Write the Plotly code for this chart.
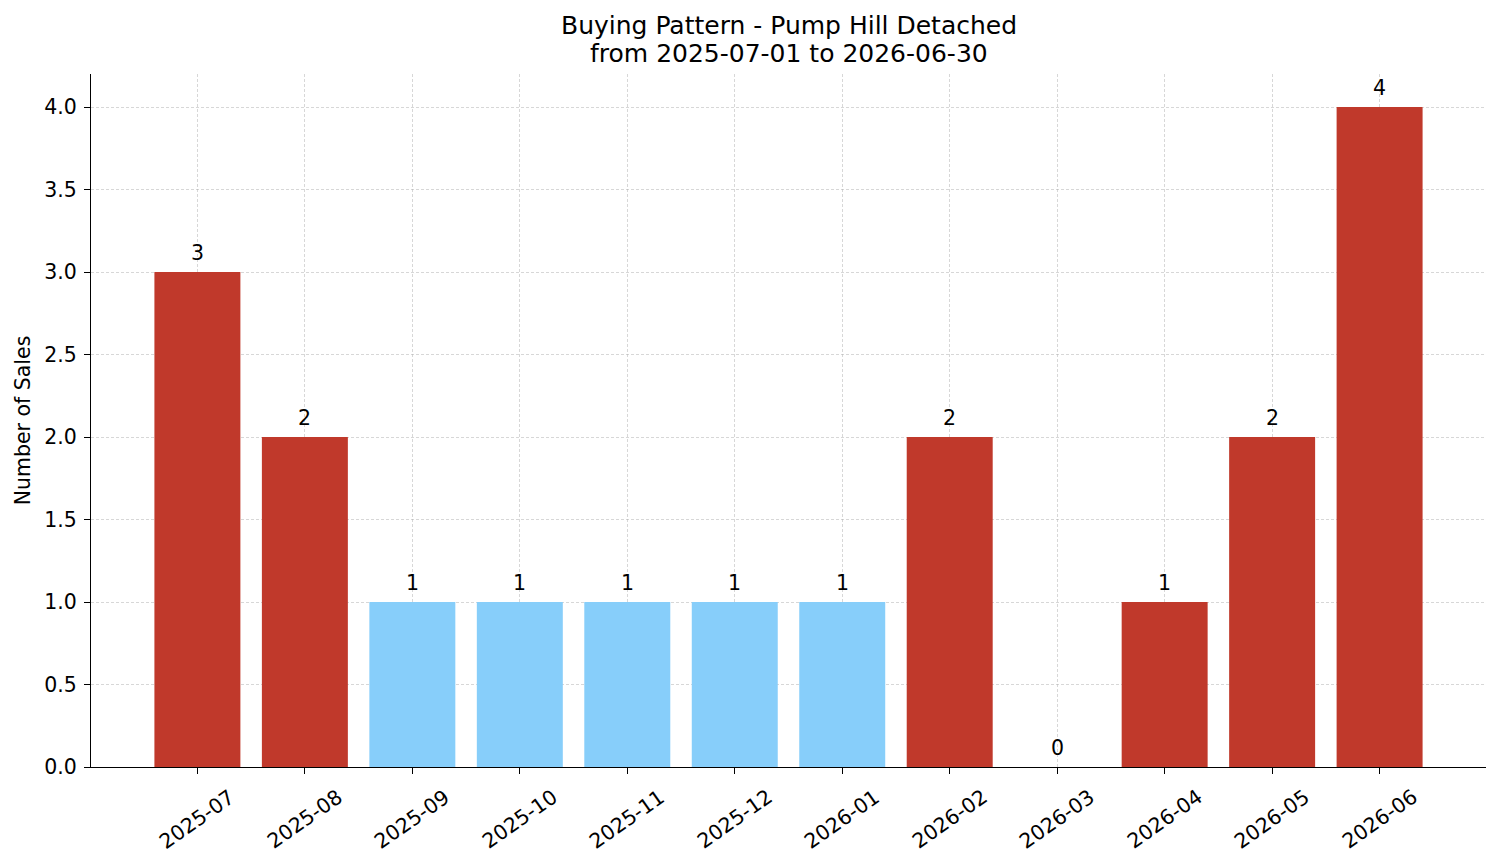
import plotly.graph_objects as go

months = ["2025-07", "2025-08", "2025-09", "2025-10", "2025-11", "2025-12",
          "2026-01", "2026-02", "2026-03", "2026-04", "2026-05", "2026-06"]
sales = [3, 2, 1, 1, 1, 1, 1, 2, 0, 1, 2, 4]
bar_colors = ["#c0392b", "#c0392b", "#87cefa", "#87cefa", "#87cefa", "#87cefa",
              "#87cefa", "#c0392b", "#c0392b", "#c0392b", "#c0392b", "#c0392b"]
y_ticks = [0.0, 0.5, 1.0, 1.5, 2.0, 2.5, 3.0, 3.5, 4.0]
title_lines = ["Buying Pattern - Pump Hill Detached", "from 2025-07-01 to 2026-06-30"]

FONT = "DejaVu Sans"
FS = 20.5
x_idx = list(range(len(months)))

fig = go.Figure()
fig.add_trace(go.Bar(
    x=x_idx, y=sales, width=0.8, marker=dict(color=bar_colors, line=dict(width=0)),
    hoverinfo="skip", showlegend=False,
))

annotations = []
for i, v in zip(x_idx, sales):
    annotations.append(dict(x=i, y=v, xref="x", yref="y", text=str(v), showarrow=False,
                            yanchor="bottom", yshift=5, font=dict(family=FONT, size=FS, color="#000")))
for i, m in zip(x_idx, months):
    annotations.append(dict(x=i, y=0, xref="x", yref="paper", text=m, showarrow=False,
                            textangle=-35, yanchor="middle", xanchor="center", yshift=-52,
                            font=dict(family=FONT, size=FS, color="#000")))
for k, line in enumerate(title_lines):
    annotations.append(dict(x=0.5, y=1, xref="paper", yref="paper", yanchor="middle",
                            xanchor="center", yshift=49 - 28 * k, showarrow=False,
                            text=line, font=dict(family=FONT, size=25, color="#000")))

fig.update_layout(
    width=1501, height=863,
    paper_bgcolor="white", plot_bgcolor="white",
    margin=dict(l=91, r=15, t=74, b=96),
    font=dict(family=FONT, size=FS, color="#000"),
    annotations=annotations,
    bargap=0.2,
)
grid = dict(showgrid=True, gridcolor="rgba(176,176,176,0.5)", griddash="3px,2px", gridwidth=0.8)
fig.update_xaxes(
    range=[-0.99, 11.99], tickvals=x_idx, ticktext=[""] * len(months),
    showline=True, linecolor="#000", linewidth=1.3, mirror=False,
    ticks="outside", ticklen=6, tickwidth=1.3, tickcolor="#000",
    zeroline=False, **grid,
)
fig.update_yaxes(
    range=[0, 4.2], tickvals=y_ticks, ticktext=[f"{t:.1f}" for t in y_ticks],
    showline=True, linecolor="#000", linewidth=1.3,
    ticks="outside", ticklen=6, tickwidth=1.3, tickcolor="#000",
    ticklabelstandoff=3,
    zeroline=False, **grid,
    title=dict(text="Number of Sales", font=dict(family=FONT, size=FS, color="#000"), standoff=7),
    tickfont=dict(family=FONT, size=FS, color="#000"),
)
fig.write_html("out.html")
